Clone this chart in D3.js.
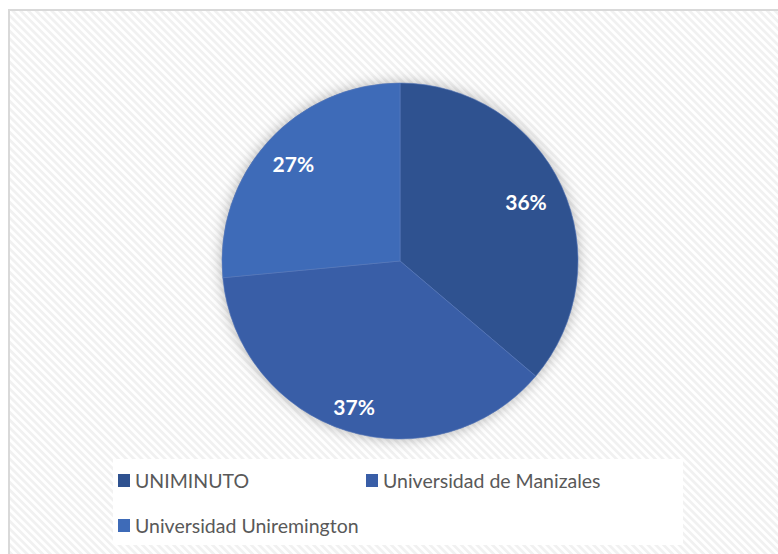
<!doctype html>
<html>
<head>
<style>
    body { margin: 0; background: #fff; }
    .lbl { font-family: Lato, "Open Sans", sans-serif; font-weight: 700; font-size: 21px; fill: #fff; }
    .leg { font-family: Lato, "Open Sans", sans-serif; font-size: 19.5px; fill: #595959; }
</style>
</head>
<body>
<div id="chart"></div>
<script src="https://d3js.org/d3.v7.min.js"></script>
<script>
// data
var categories = ["UNIMINUTO", "Universidad de Manizales", "Universidad Uniremington"];
var values = [36.2, 37.3, 26.5];
var colors = ["#2F5290", "#395EA7", "#3E6BB8"];

var W = 778, H = 554;
var svg = d3.select("#chart").append("svg")
    .attr("width", W)
    .attr("height", H);

var defs = svg.append("defs");

// diagonal hatch background
var pat = defs.append("pattern")
    .attr("id", "hatch")
    .attr("patternUnits", "userSpaceOnUse")
    .attr("width", 5.5)
    .attr("height", 5.5)
    .attr("patternTransform", "rotate(-45)");
pat.append("rect").attr("width", 5.5).attr("height", 5.5).attr("fill", "#ffffff");
pat.append("rect").attr("width", 2.7).attr("height", 5.5).attr("fill", "#f1f1f1");

var shadow = defs.append("filter")
    .attr("id", "glow")
    .attr("x", "-20%").attr("y", "-20%")
    .attr("width", "140%").attr("height", "140%");
shadow.append("feDropShadow")
    .attr("dx", 0).attr("dy", 0)
    .attr("stdDeviation", 7)
    .attr("flood-color", "#000")
    .attr("flood-opacity", 0.3);

// chart area with border
svg.append("rect")
    .attr("x", 9).attr("y", 10)
    .attr("width", W + 20).attr("height", H + 20)
    .attr("fill", "url(#hatch)")
    .attr("stroke", "#d9d9d9")
    .attr("stroke-width", 2);

// pie
var cx = 400, cy = 261, r = 178;
var labelR = [0.78, 0.86, 0.81];
var pie = d3.pie().sort(null).value(function(d) { return d; });
var arcs = pie(values);
var arc = d3.arc().innerRadius(0).outerRadius(r);

var g = svg.append("g")
    .attr("transform", "translate(" + cx + "," + cy + ")");

g.append("circle")
    .attr("r", r)
    .attr("fill", "#888")
    .attr("filter", "url(#glow)");

g.selectAll("path")
    .data(arcs)
    .enter().append("path")
    .attr("d", arc)
    .attr("fill", function(d, i) { return colors[i]; })
    .attr("stroke", "#5b7cc0")
    .attr("stroke-width", 0.6);

var total = d3.sum(values);
g.selectAll("text")
    .data(arcs)
    .enter().append("text")
    .attr("class", "lbl")
    .attr("text-anchor", "middle")
    .attr("dy", "0.36em")
    .attr("transform", function(d, i) {
        var lr = d3.arc().innerRadius(r * labelR[i]).outerRadius(r * labelR[i]);
        return "translate(" + lr.centroid(d) + ")";
    })
    .text(function(d) { return Math.round(d.value / total * 100) + "%"; });

// legend
svg.append("rect")
    .attr("x", 113).attr("y", 459)
    .attr("width", 570).attr("height", 86)
    .attr("fill", "#ffffff");

var legPos = [[118, 474], [366, 474], [118, 519]];
var leg = svg.selectAll(".legitem")
    .data(categories)
    .enter().append("g")
    .attr("class", "legitem")
    .attr("transform", function(d, i) { return "translate(" + legPos[i][0] + "," + legPos[i][1] + ")"; });
leg.append("rect")
    .attr("width", 12).attr("height", 13)
    .attr("fill", function(d, i) { return colors[i]; });
leg.append("text")
    .attr("class", "leg")
    .attr("x", 17)
    .attr("y", 14)
    .text(function(d) { return d; });
</script>
</body>
</html>
